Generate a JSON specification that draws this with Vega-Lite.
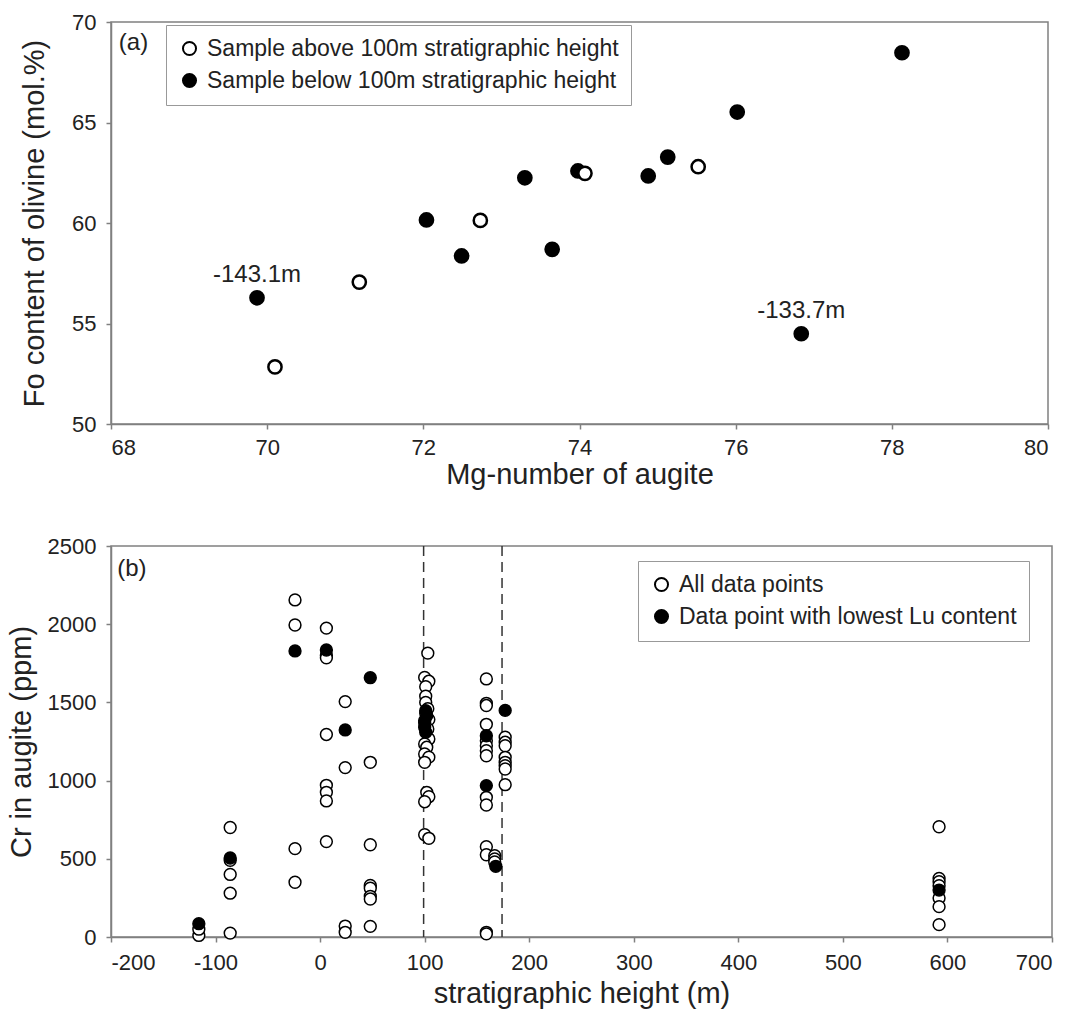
{
  "$schema": "https://vega.github.io/schema/vega-lite/v6.json",
  "padding": {"left": 6, "top": 10, "right": 5, "bottom": 5},
  "background": "white",
  "config": {
    "font": "Liberation Sans",
    "view": {"stroke": "#808080", "strokeWidth": 1.5},
    "axis": {"grid": false, "domainColor": "#808080", "domainWidth": 1.5, "tickColor": "#808080", "tickWidth": 1.5, "tickSize": 5, "labelFontSize": 22, "titleFontSize": 29, "titleFontWeight": "normal", "labelColor": "#222222", "titleColor": "#222222", "labelFont": "Liberation Sans", "titleFont": "Liberation Sans", "labelExpr": "'' + datum.value"},
    "legend": {"labelFont": "Liberation Sans", "labelLimit": 0}
  },
  "spacing": 44,
  "resolve": {"scale": {"fill": "independent"}, "legend": {"fill": "independent"}},
  "vconcat": [
    {
      "width": 937,
      "height": 402,
      "data": {"values": [
        {"mg": 69.87, "fo": 56.28, "group": "Sample below 100m stratigraphic height", "label": "-143.1m"},
        {"mg": 72.04, "fo": 60.15, "group": "Sample below 100m stratigraphic height"},
        {"mg": 72.49, "fo": 58.36, "group": "Sample below 100m stratigraphic height"},
        {"mg": 73.30, "fo": 62.25, "group": "Sample below 100m stratigraphic height"},
        {"mg": 73.65, "fo": 58.69, "group": "Sample below 100m stratigraphic height"},
        {"mg": 73.98, "fo": 62.59, "group": "Sample below 100m stratigraphic height"},
        {"mg": 74.88, "fo": 62.34, "group": "Sample below 100m stratigraphic height"},
        {"mg": 75.13, "fo": 63.28, "group": "Sample below 100m stratigraphic height"},
        {"mg": 76.02, "fo": 65.52, "group": "Sample below 100m stratigraphic height"},
        {"mg": 78.13, "fo": 68.47, "group": "Sample below 100m stratigraphic height"},
        {"mg": 76.84, "fo": 54.49, "group": "Sample below 100m stratigraphic height", "label": "-133.7m"},
        {"mg": 70.10, "fo": 52.84, "group": "Sample above 100m stratigraphic height"},
        {"mg": 71.18, "fo": 57.06, "group": "Sample above 100m stratigraphic height"},
        {"mg": 72.73, "fo": 60.13, "group": "Sample above 100m stratigraphic height"},
        {"mg": 74.07, "fo": 62.47, "group": "Sample above 100m stratigraphic height"},
        {"mg": 75.52, "fo": 62.80, "group": "Sample above 100m stratigraphic height"}
      ]},
      "layer": [
        {
          "mark": {"type": "point", "shape": "circle", "filled": true, "stroke": "black", "strokeWidth": 2.5, "size": 175, "opacity": 1},
          "encoding": {
            "x": {"field": "mg", "type": "quantitative", "title": "Mg-number of augite", "scale": {"domain": [68, 80], "nice": false, "zero": false}, "axis": {"values": [68, 70, 72, 74, 76, 78, 80], "labelPadding": 8, "titlePadding": 2}},
            "y": {"field": "fo", "type": "quantitative", "title": "Fo content of olivine (mol.%)", "scale": {"domain": [50, 70], "nice": false, "zero": false}, "axis": {"values": [50, 55, 60, 65, 70], "labelPadding": 10, "titlePadding": 22}},
            "fill": {"field": "group", "type": "nominal", "scale": {"domain": ["Sample above 100m stratigraphic height", "Sample below 100m stratigraphic height"], "range": ["white", "black"]}, "legend": {"title": null, "orient": "none", "legendX": 55, "legendY": 3, "strokeColor": "#999999", "fillColor": "white", "padding": 12, "labelFontSize": 23, "labelColor": "#222222", "labelLimit": 0, "symbolType": "circle", "symbolSize": 170, "symbolStrokeColor": "black", "symbolStrokeWidth": 2, "rowPadding": 8, "labelOffset": 6}}
          }
        },
        {
          "transform": [{"filter": "datum.label != null"}],
          "mark": {"type": "text", "fontSize": 24, "dy": -23, "baseline": "middle", "align": "center", "color": "#222222"},
          "encoding": {
            "x": {"field": "mg", "type": "quantitative"},
            "y": {"field": "fo", "type": "quantitative"},
            "text": {"field": "label"}
          }
        },
        {
          "data": {"values": [{"mg": 68.1, "fo": 68.95, "t": "(a)"}]},
          "mark": {"type": "text", "fontSize": 24, "align": "left", "baseline": "middle", "color": "#222222"},
          "encoding": {
            "x": {"field": "mg", "type": "quantitative"},
            "y": {"field": "fo", "type": "quantitative"},
            "text": {"field": "t"}
          }
        }
      ]
    },
    {
      "width": 941,
      "height": 391,
      "layer": [
        {
          "data": {"values": [{"h": 99}, {"h": 174}]},
          "mark": {"type": "rule", "strokeDash": [10, 6], "color": "#333333", "strokeWidth": 1.5},
          "encoding": {"x": {"field": "h", "type": "quantitative"}}
        },
        {
          "data": {"values": [
            {"h": -116, "cr": 10, "type": "All data points"},
            {"h": -116, "cr": 50, "type": "All data points"},
            {"h": -86, "cr": 700, "type": "All data points"},
            {"h": -86, "cr": 400, "type": "All data points"},
            {"h": -86, "cr": 280, "type": "All data points"},
            {"h": -86, "cr": 25, "type": "All data points"},
            {"h": -86, "cr": 490, "type": "All data points"},
            {"h": -24, "cr": 2155, "type": "All data points"},
            {"h": -24, "cr": 1995, "type": "All data points"},
            {"h": -24, "cr": 565, "type": "All data points"},
            {"h": -24, "cr": 350, "type": "All data points"},
            {"h": 6, "cr": 1975, "type": "All data points"},
            {"h": 6, "cr": 1800, "type": "All data points"},
            {"h": 6, "cr": 1785, "type": "All data points"},
            {"h": 6, "cr": 1295, "type": "All data points"},
            {"h": 6, "cr": 970, "type": "All data points"},
            {"h": 6, "cr": 925, "type": "All data points"},
            {"h": 6, "cr": 870, "type": "All data points"},
            {"h": 6, "cr": 610, "type": "All data points"},
            {"h": 24, "cr": 1505, "type": "All data points"},
            {"h": 24, "cr": 1083, "type": "All data points"},
            {"h": 24, "cr": 70, "type": "All data points"},
            {"h": 24, "cr": 30, "type": "All data points"},
            {"h": 48, "cr": 1117, "type": "All data points"},
            {"h": 48, "cr": 590, "type": "All data points"},
            {"h": 48, "cr": 330, "type": "All data points"},
            {"h": 48, "cr": 312, "type": "All data points"},
            {"h": 48, "cr": 260, "type": "All data points"},
            {"h": 48, "cr": 243, "type": "All data points"},
            {"h": 48, "cr": 68, "type": "All data points"},
            {"h": 103, "cr": 1815, "type": "All data points"},
            {"h": 100, "cr": 1660, "type": "All data points"},
            {"h": 104, "cr": 1635, "type": "All data points"},
            {"h": 101, "cr": 1600, "type": "All data points"},
            {"h": 101, "cr": 1540, "type": "All data points"},
            {"h": 101, "cr": 1500, "type": "All data points"},
            {"h": 103, "cr": 1460, "type": "All data points"},
            {"h": 101, "cr": 1430, "type": "All data points"},
            {"h": 104, "cr": 1390, "type": "All data points"},
            {"h": 100, "cr": 1370, "type": "All data points"},
            {"h": 103, "cr": 1330, "type": "All data points"},
            {"h": 104, "cr": 1266, "type": "All data points"},
            {"h": 100, "cr": 1234, "type": "All data points"},
            {"h": 102, "cr": 1213, "type": "All data points"},
            {"h": 100, "cr": 1170, "type": "All data points"},
            {"h": 104, "cr": 1150, "type": "All data points"},
            {"h": 100, "cr": 1117, "type": "All data points"},
            {"h": 102, "cr": 925, "type": "All data points"},
            {"h": 104, "cr": 897, "type": "All data points"},
            {"h": 100, "cr": 865, "type": "All data points"},
            {"h": 100, "cr": 654, "type": "All data points"},
            {"h": 104, "cr": 631, "type": "All data points"},
            {"h": 159, "cr": 1650, "type": "All data points"},
            {"h": 159, "cr": 1494, "type": "All data points"},
            {"h": 159, "cr": 1480, "type": "All data points"},
            {"h": 159, "cr": 1360, "type": "All data points"},
            {"h": 159, "cr": 1255, "type": "All data points"},
            {"h": 159, "cr": 1223, "type": "All data points"},
            {"h": 159, "cr": 1191, "type": "All data points"},
            {"h": 159, "cr": 1159, "type": "All data points"},
            {"h": 159, "cr": 893, "type": "All data points"},
            {"h": 159, "cr": 844, "type": "All data points"},
            {"h": 159, "cr": 577, "type": "All data points"},
            {"h": 159, "cr": 526, "type": "All data points"},
            {"h": 159, "cr": 30, "type": "All data points"},
            {"h": 159, "cr": 20, "type": "All data points"},
            {"h": 167, "cr": 520, "type": "All data points"},
            {"h": 167, "cr": 499, "type": "All data points"},
            {"h": 167, "cr": 480, "type": "All data points"},
            {"h": 177, "cr": 1277, "type": "All data points"},
            {"h": 177, "cr": 1245, "type": "All data points"},
            {"h": 177, "cr": 1223, "type": "All data points"},
            {"h": 177, "cr": 1149, "type": "All data points"},
            {"h": 177, "cr": 1117, "type": "All data points"},
            {"h": 177, "cr": 1095, "type": "All data points"},
            {"h": 177, "cr": 1074, "type": "All data points"},
            {"h": 177, "cr": 974, "type": "All data points"},
            {"h": 592, "cr": 705, "type": "All data points"},
            {"h": 592, "cr": 375, "type": "All data points"},
            {"h": 592, "cr": 354, "type": "All data points"},
            {"h": 592, "cr": 328, "type": "All data points"},
            {"h": 592, "cr": 249, "type": "All data points"},
            {"h": 592, "cr": 194, "type": "All data points"},
            {"h": 592, "cr": 79, "type": "All data points"},
            {"h": -116, "cr": 85, "type": "Data point with lowest Lu content"},
            {"h": -86, "cr": 505, "type": "Data point with lowest Lu content"},
            {"h": -24, "cr": 1829, "type": "Data point with lowest Lu content"},
            {"h": 6, "cr": 1835, "type": "Data point with lowest Lu content"},
            {"h": 24, "cr": 1324, "type": "Data point with lowest Lu content"},
            {"h": 48, "cr": 1658, "type": "Data point with lowest Lu content"},
            {"h": 101, "cr": 1447, "type": "Data point with lowest Lu content"},
            {"h": 102, "cr": 1415, "type": "Data point with lowest Lu content"},
            {"h": 100, "cr": 1383, "type": "Data point with lowest Lu content"},
            {"h": 100, "cr": 1341, "type": "Data point with lowest Lu content"},
            {"h": 101, "cr": 1309, "type": "Data point with lowest Lu content"},
            {"h": 159, "cr": 1287, "type": "Data point with lowest Lu content"},
            {"h": 159, "cr": 968, "type": "Data point with lowest Lu content"},
            {"h": 168, "cr": 452, "type": "Data point with lowest Lu content"},
            {"h": 177, "cr": 1449, "type": "Data point with lowest Lu content"},
            {"h": 592, "cr": 300, "type": "Data point with lowest Lu content"}
          ]},
          "mark": {"type": "point", "shape": "circle", "filled": true, "stroke": "black", "strokeWidth": 1.5, "size": 140, "opacity": 1},
          "encoding": {
            "x": {"field": "h", "type": "quantitative", "title": "stratigraphic height (m)", "scale": {"domain": [-200, 700], "nice": false, "zero": false}, "axis": {"values": [-200, -100, 0, 100, 200, 300, 400, 500, 600, 700], "labelPadding": 10, "titlePadding": 6}},
            "y": {"field": "cr", "type": "quantitative", "title": "Cr in augite (ppm)", "scale": {"domain": [0, 2500], "nice": false}, "axis": {"values": [0, 500, 1000, 1500, 2000, 2500], "labelPadding": 10, "titlePadding": 11}},
            "fill": {"field": "type", "type": "nominal", "scale": {"domain": ["All data points", "Data point with lowest Lu content"], "range": ["white", "black"]}, "legend": {"title": null, "orient": "none", "legendX": 527, "legendY": 15, "strokeColor": "#999999", "fillColor": "white", "padding": 12, "labelFontSize": 23, "labelColor": "#222222", "labelLimit": 0, "symbolType": "circle", "symbolSize": 170, "symbolStrokeColor": "black", "symbolStrokeWidth": 2, "rowPadding": 8, "labelOffset": 6}}
          }
        },
        {
          "data": {"values": [{"h": -194, "cr": 2353, "t": "(b)"}]},
          "mark": {"type": "text", "fontSize": 24, "align": "left", "baseline": "middle", "color": "#222222"},
          "encoding": {
            "x": {"field": "h", "type": "quantitative"},
            "y": {"field": "cr", "type": "quantitative"},
            "text": {"field": "t"}
          }
        }
      ]
    }
  ]
}
